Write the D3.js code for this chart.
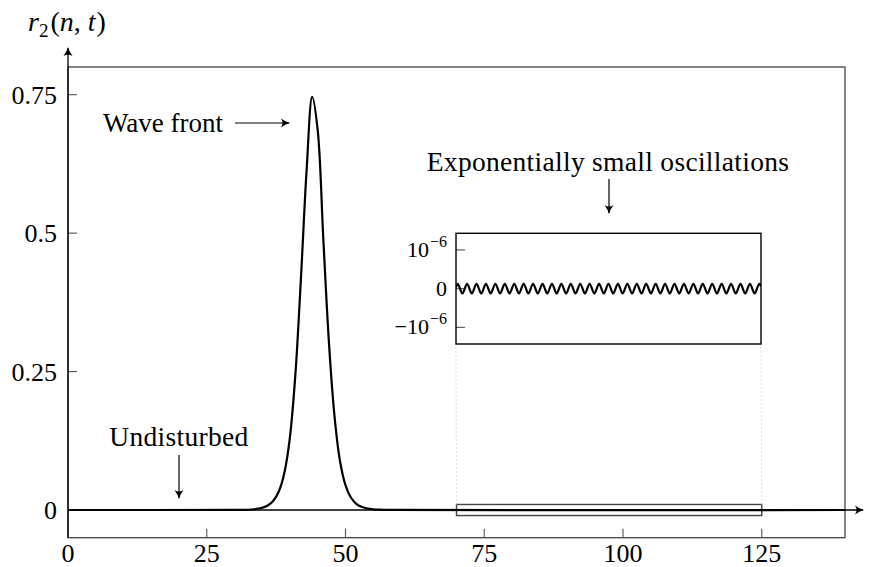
<!DOCTYPE html>
<html lang="en">
  <head>
    <meta charset="utf-8">
    <style type="text/css">
      body { margin: 0; background: #fff; }
      svg text { font-family: "Liberation Serif", "DejaVu Serif", serif; }
      .frame { fill: none; stroke: #444; stroke-width: 1.3px; }
      .tick { stroke: #555; stroke-width: 1.1px; }
      .axis { stroke: #000; stroke-width: 1.3px; fill: none; }
      .curve { fill: none; stroke: #000; stroke-width: 2.2px; }
      .note { stroke: #000; stroke-width: 1.2px; fill: none; }
    </style>
  </head>
  <body>
    <svg id="chart"></svg>
    <script src="https://cdnjs.cloudflare.com/ajax/libs/d3/7.8.5/d3.min.js"></script>
    <script type="text/javascript">
// lattice site n and r_2(n,t)
var curveN = [0, 30, 31, 32, 33, 34, 35, 36, 37, 38, 39, 40, 41, 42, 43, 44,
  45, 46, 47, 48, 49, 50, 51, 52, 53, 54, 55, 56, 57, 58, 140];
var curveR = [0, 0.0001, 0.0002, 0.0004, 0.0009, 0.0019, 0.004, 0.0081, 0.0166, 0.0338, 0.0678, 0.1326, 0.249, 0.424, 0.615, 0.746,
  0.685, 0.49, 0.305, 0.1715, 0.089, 0.0447, 0.0221, 0.0108, 0.0053, 0.0026, 0.0013, 0.0006, 0.0003, 0.0001, 0];

// zoomed part n = 70..125, values in units of 1e-6
var oscN = [70, 70.30, 71.15, 72.00, 72.85, 73.70, 74.55, 75.40, 76.25, 77.10,
  77.95, 78.80, 79.65, 80.50, 81.35, 82.20, 83.05, 83.90, 84.75, 85.60,
  86.45, 87.30, 88.15, 89.00, 89.85, 90.70, 91.55, 92.40, 93.25, 94.10,
  94.95, 95.80, 96.65, 97.50, 98.35, 99.20, 100.05, 100.90, 101.75, 102.60,
  103.45, 104.30, 105.15, 106.00, 106.85, 107.70, 108.55, 109.40, 110.25, 111.10,
  111.95, 112.80, 113.65, 114.50, 115.35, 116.20, 117.05, 117.90, 118.75, 119.60,
  120.45, 121.30, 122.15, 123.00, 123.85, 124.70, 125];
var oscR = [0.03,
  0.125, -0.125, 0.125, -0.125, 0.125, -0.125, 0.125, -0.125, 0.125, -0.125,
  0.125, -0.125, 0.125, -0.125, 0.125, -0.125, 0.125, -0.125, 0.125, -0.125,
  0.125, -0.125, 0.125, -0.125, 0.125, -0.125, 0.125, -0.125, 0.125, -0.125,
  0.125, -0.125, 0.125, -0.125, 0.125, -0.125, 0.125, -0.125, 0.125, -0.125,
  0.125, -0.125, 0.125, -0.125, 0.125, -0.125, 0.125, -0.125, 0.125, -0.125,
  0.125, -0.125, 0.125, -0.125, 0.125, -0.125, 0.125, -0.125, 0.125, -0.125,
  0.125, -0.125, 0.125, -0.125, 0.125,
  0.06];

var xTicks = [0, 25, 50, 75, 100, 125];
var yTicks = [0, 0.25, 0.5, 0.75];
var yTickLabels = ["0", "0.25", "0.5", "0.75"];
var insetTicks = [-1, 0, 1];
var zoomBox = [70, 125, -0.01, 0.01];

var width = 872, height = 567;
var serif = "'Liberation Serif', 'DejaVu Serif', serif";

var svg = d3.select("#chart")
  .attr("width", width)
  .attr("height", height);

var defs = svg.append("defs");
defs.append("marker")
  .attr("id", "head")
  .attr("viewBox", "-10 -6 12 12")
  .attr("refX", 0)
  .attr("refY", 0)
  .attr("markerWidth", 12)
  .attr("markerHeight", 12)
  .attr("markerUnits", "userSpaceOnUse")
  .attr("orient", "auto")
  .append("path")
  .attr("d", "M-8,-4.5 Q-3,-0.8 1,0 Q-3,0.8 -8,4.5 Q-5,0 -8,-4.5 Z")
  .attr("fill", "#000");

var x = d3.scaleLinear().domain([0, 140]).range([68, 845]);
var y = d3.scaleLinear().domain([-0.05, 0.8]).range([537.7, 67]);

// frame
svg.append("rect")
  .attr("class", "frame")
  .attr("x", x(0))
  .attr("y", y(0.8))
  .attr("width", x(140) - x(0))
  .attr("height", y(-0.05) - y(0.8));

// ticks
svg.append("g").selectAll("line").data(xTicks.slice(1)).enter()
  .append("line")
  .attr("class", "tick")
  .attr("x1", function(d) { return x(d); })
  .attr("x2", function(d) { return x(d); })
  .attr("y1", y(-0.05))
  .attr("y2", y(-0.05) - 9);

svg.append("g").selectAll("line").data(yTicks.slice(1)).enter()
  .append("line")
  .attr("class", "tick")
  .attr("x1", x(0))
  .attr("x2", x(0) + 9)
  .attr("y1", function(d) { return y(d); })
  .attr("y2", function(d) { return y(d); });

svg.append("g").selectAll("text").data(xTicks).enter()
  .append("text")
  .attr("x", function(d) { return x(d); })
  .attr("y", 562)
  .attr("text-anchor", "middle")
  .attr("font-family", serif)
  .style("font-size", "26px")
  .text(function(d) { return d; });

svg.append("g").selectAll("text").data(yTicks).enter()
  .append("text")
  .attr("x", 57)
  .attr("y", function(d) { return y(d) + 9; })
  .attr("text-anchor", "end")
  .attr("font-family", serif)
  .style("font-size", "26px")
  .text(function(d, i) { return yTickLabels[i]; });

// zoom rectangle and guide lines
var insetLeft = 456, insetRight = 761, insetTop = 233.3, insetBottom = 344;

svg.append("rect")
  .attr("x", x(zoomBox[0]))
  .attr("y", y(zoomBox[3]))
  .attr("width", x(zoomBox[1]) - x(zoomBox[0]))
  .attr("height", y(zoomBox[2]) - y(zoomBox[3]))
  .attr("fill", "none")
  .attr("stroke", "#444")
  .attr("stroke-width", 1.4);

svg.append("g").selectAll("line").data([zoomBox[0], zoomBox[1]]).enter()
  .append("line")
  .attr("x1", function(d) { return x(d); })
  .attr("x2", function(d, i) { return i === 0 ? insetLeft : insetRight; })
  .attr("y1", y(zoomBox[3]))
  .attr("y2", insetBottom)
  .attr("stroke", "#bbb")
  .attr("stroke-width", 1)
  .attr("stroke-dasharray", "1,3");

// main curve
var line = d3.line()
  .x(function(d, i) { return x(curveN[i]); })
  .y(function(d) { return y(d); })
  .curve(d3.curveCatmullRom);

svg.append("path")
  .datum(curveR)
  .attr("class", "curve")
  .attr("d", line);

// axes with arrows
svg.append("line")
  .attr("class", "axis")
  .attr("x1", x(0)).attr("y1", y(0))
  .attr("x2", 863).attr("y2", y(0))
  .attr("marker-end", "url(#head)");

svg.append("line")
  .attr("class", "axis")
  .attr("x1", x(0)).attr("y1", y(-0.05))
  .attr("x2", x(0)).attr("y2", 48)
  .attr("marker-end", "url(#head)");

// axis label r_2(n,t)
var ylab = svg.append("text")
  .attr("x", 28)
  .attr("y", 31)
  .attr("font-family", serif)
  .style("font-size", "28px");
ylab.append("tspan").style("font-style", "italic").text("r");
ylab.append("tspan").attr("dy", 6).style("font-size", "19px").text("2");
ylab.append("tspan").attr("dy", -6).attr("dx", 2).text("(");
ylab.append("tspan").style("font-style", "italic").text("n");
ylab.append("tspan").text(", ");
ylab.append("tspan").style("font-style", "italic").text("t");
ylab.append("tspan").attr("dx", 1).text(")");

// inset
var ix = d3.scaleLinear().domain([70, 125]).range([insetLeft, insetRight]);
var iy = d3.scaleLinear().domain([-1.43, 1.43]).range([insetBottom, insetTop]);

defs.append("clipPath").attr("id", "insetClip")
  .append("rect")
  .attr("x", insetLeft).attr("y", insetTop)
  .attr("width", insetRight - insetLeft)
  .attr("height", insetBottom - insetTop);

svg.append("rect")
  .attr("x", insetLeft).attr("y", insetTop)
  .attr("width", insetRight - insetLeft)
  .attr("height", insetBottom - insetTop)
  .attr("fill", "#fff");

svg.append("g").selectAll("line").data(insetTicks).enter()
  .append("line")
  .attr("class", "tick")
  .attr("x1", insetLeft)
  .attr("x2", insetLeft + 9)
  .attr("y1", function(d) { return iy(d); })
  .attr("y2", function(d) { return iy(d); });

var oscLine = d3.line()
  .x(function(d, i) { return ix(oscN[i]); })
  .y(function(d) { return iy(d); })
  .curve(d3.curveMonotoneX);

svg.append("path")
  .datum(oscR)
  .attr("class", "curve")
  .attr("clip-path", "url(#insetClip)")
  .attr("d", oscLine);

svg.append("rect")
  .attr("x", insetLeft).attr("y", insetTop)
  .attr("width", insetRight - insetLeft)
  .attr("height", insetBottom - insetTop)
  .attr("fill", "none")
  .attr("stroke", "#000")
  .attr("stroke-width", 1.4);

var ilab = svg.append("g").selectAll("text").data(insetTicks).enter()
  .append("text")
  .attr("x", 447)
  .attr("y", function(d) { return iy(d) + 7; })
  .attr("text-anchor", "end")
  .attr("font-family", serif)
  .style("font-size", "22px");
ilab.each(function(d) {
  var t = d3.select(this);
  if (d === 0) { t.text("0"); return; }
  t.append("tspan").text(d < 0 ? "\u221210" : "10");
  t.append("tspan").attr("dy", -10).attr("dx", 1).style("font-size", "16px").text("\u22126");
});

// annotations
svg.append("text")
  .attr("x", 103).attr("y", 132)
  .attr("font-family", serif)
  .style("font-size", "27px")
  .text("Wave front");
svg.append("line")
  .attr("class", "note")
  .attr("x1", 235).attr("y1", 123)
  .attr("x2", 289).attr("y2", 123)
  .attr("marker-end", "url(#head)");

svg.append("text")
  .attr("x", 608).attr("y", 171)
  .attr("text-anchor", "middle")
  .attr("font-family", serif)
  .style("font-size", "27.5px")
  .attr("letter-spacing", "0.3px")
  .text("Exponentially small oscillations");
svg.append("line")
  .attr("class", "note")
  .attr("x1", 609).attr("y1", 179)
  .attr("x2", 609).attr("y2", 213)
  .attr("marker-end", "url(#head)");

svg.append("text")
  .attr("x", 179).attr("y", 446)
  .attr("text-anchor", "middle")
  .attr("font-family", serif)
  .style("font-size", "27.5px")
  .attr("letter-spacing", "0.3px")
  .text("Undisturbed");
svg.append("line")
  .attr("class", "note")
  .attr("x1", 179).attr("y1", 455)
  .attr("x2", 179).attr("y2", 498)
  .attr("marker-end", "url(#head)");
    </script>
  </body>
</html>
